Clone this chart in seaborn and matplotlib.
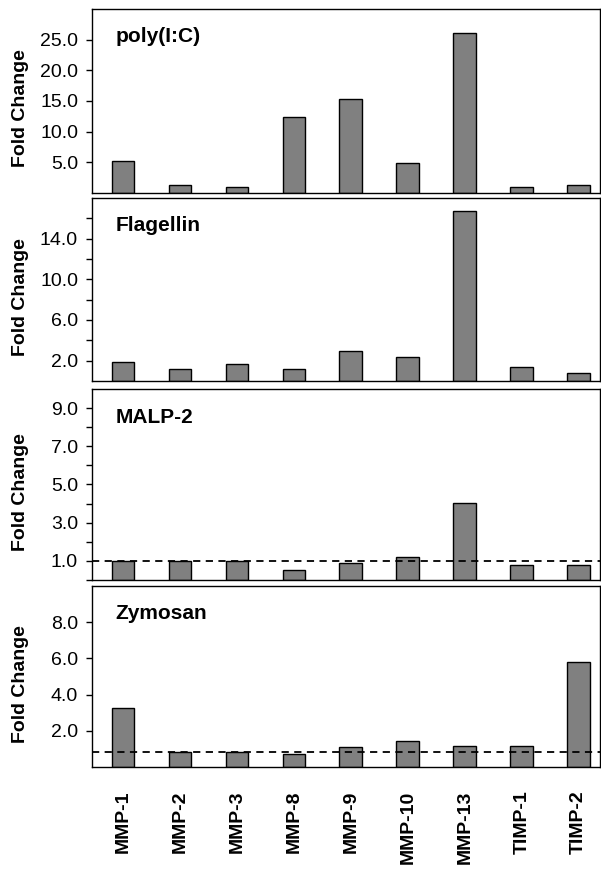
import numpy as np
import pandas as pd
import matplotlib
matplotlib.use('Agg')
import matplotlib.pyplot as plt
import seaborn as sns

# 데이터
genes = ['MMP-1', 'MMP-2', 'MMP-3', 'MMP-8', 'MMP-9', 'MMP-10', 'MMP-13', 'TIMP-1', 'TIMP-2']
poly_ic = [5.2, 1.3, 0.9, 12.4, 15.3, 4.9, 26.1, 1.0, 1.3]
flagellin = [1.9, 1.15, 1.7, 1.15, 2.95, 2.35, 16.7, 1.4, 0.75]
malp2 = [1.0, 1.0, 1.0, 0.52, 0.9, 1.18, 4.03, 0.81, 0.81]
zymosan = [3.27, 0.82, 0.82, 0.72, 1.1, 1.43, 1.15, 1.15, 5.78]

panel_names = ['poly(I:C)', 'Flagellin', 'MALP-2', 'Zymosan']
panel_values = [poly_ic, flagellin, malp2, zymosan]
panel_ymax = [30, 18, 10, 10]
panel_ticks = [[5, 10, 15, 20, 25], list(range(2, 18, 2)), list(range(0, 10)), [2, 4, 6, 8]]
panel_labels = [[5, 10, 15, 20, 25], [2, 6, 10, 14], [1, 3, 5, 7, 9], [2, 4, 6, 8]]
ref_lines = [None, None, 1.0, 0.82]

sns.set_style('ticks')
plt.rcParams['font.family'] = ['Liberation Sans', 'DejaVu Sans']
plt.rcParams['text.color'] = 'black'
plt.rcParams['axes.labelcolor'] = 'black'
plt.rcParams['xtick.color'] = 'black'
plt.rcParams['ytick.color'] = 'black'

fig = plt.figure(figsize=(6.01, 8.71), dpi=100)
# 패널 위치 (figure 비율)
boxes = [(0.7784, 0.9897), (0.5626, 0.7727), (0.3341, 0.5534), (0.1194, 0.3272)]
left, right = 0.153, 0.998

for i, (name, vals) in enumerate(zip(panel_names, panel_values)):
    bottom, top = boxes[i]
    ax = fig.add_axes([left, bottom, right - left, top - bottom])
    df = pd.DataFrame({'gene': genes, 'fold': vals})
    sns.barplot(data=df, x='gene', y='fold', color='#808080', saturation=1,
                edgecolor='black', linewidth=1, width=0.4, ax=ax, zorder=2)
    if ref_lines[i] is not None:
        ax.axhline(ref_lines[i], color='black', linestyle=(0, (4, 3)), linewidth=1.3, zorder=3)
    ax.set_xlim(-0.545, 8.37)
    ax.set_ylim(0, panel_ymax[i])
    ax.set_yticks(panel_ticks[i])
    ax.set_yticklabels([f'{t:.1f}' if t in panel_labels[i] else '' for t in panel_ticks[i]])
    ax.tick_params(axis='y', length=4, width=1, pad=6, labelsize=14, color='black',
                   labelcolor='black')
    for sp in ax.spines.values():
        sp.set_visible(True)
        sp.set_color('black')
        sp.set_linewidth(1)
    ax.set_ylabel('Fold Change', fontsize=14, fontweight='bold', color='black')
    ax.yaxis.set_label_coords(-0.124, 0.46)
    ax.set_xlabel('')
    ax.text(0.046, 0.85, name, transform=ax.transAxes, fontsize=15, fontweight='bold',
            ha='left', va='center', color='black')
    if i == 3:
        ax.tick_params(axis='x', length=0, pad=17, labelsize=14, labelcolor='black')
        ax.set_xticks(range(len(genes)))
        ax.set_xticklabels(genes, rotation=90, fontweight='bold', va='top', ha='center')
    else:
        ax.set_xticks([])

fig.savefig('out.png', dpi=100)
